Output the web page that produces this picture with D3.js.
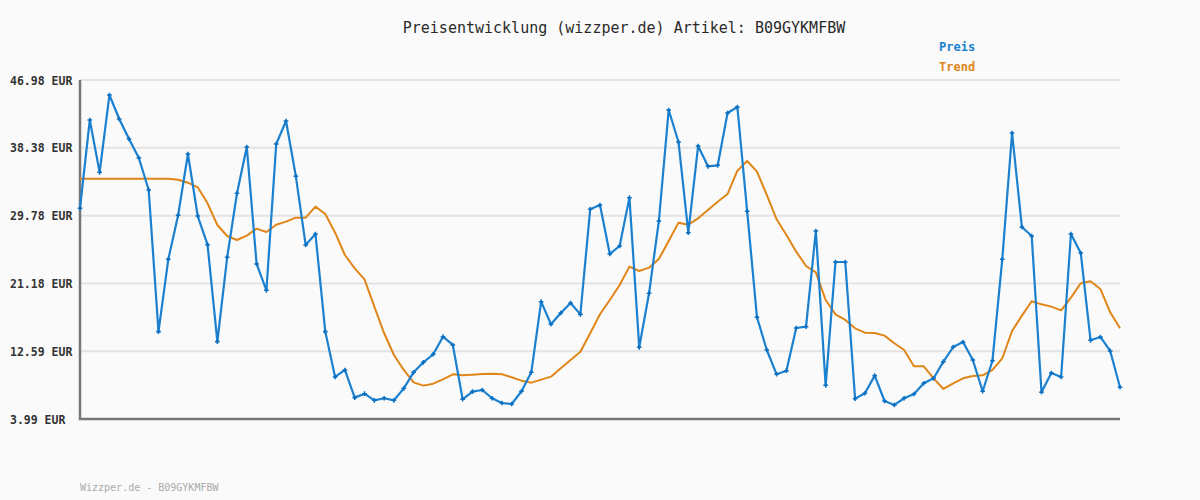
<!DOCTYPE html>
<html><head><meta charset="utf-8">
<script src="https://cdn.jsdelivr.net/npm/d3@7"></script>
<style>
html,body{margin:0;padding:0;background:#fafafa;}
svg{display:block;}
text{font-family:"DejaVu Sans Mono","Liberation Mono",monospace;}
</style></head>
<body>
<svg id="chart" width="1200" height="500"></svg>
<script>
const titleText = "Preisentwicklung (wizzper.de) Artikel: B09GYKMFBW";
const footerText = "Wizzper.de - B09GYKMFBW";
const seriesNames = ["Preis", "Trend"];
const tickValues = [3.99, 12.59, 21.18, 29.78, 38.38, 46.98];
const tickLabels = ["3.99 EUR", "12.59 EUR", "21.18 EUR", "29.78 EUR", "38.38 EUR", "46.98 EUR"];

const preis = [
 30.71, 41.91, 35.27, 45.08, 42.03, 39.50, 37.09, 33.03, 15.07, 24.24,
 29.82, 37.60, 29.73, 26.10, 13.80, 24.49, 32.61, 38.48, 23.65, 20.31,
 38.86, 41.78, 34.77, 26.06, 27.45, 15.07, 9.32, 10.21, 6.70, 7.20,
 6.36, 6.62, 6.36, 7.88, 9.91, 11.18, 12.20, 14.43, 13.38, 6.49,
 7.46, 7.67, 6.62, 6.02, 5.89, 7.51, 9.91, 18.87, 16.00, 17.43,
 18.70, 17.26, 30.58, 31.13, 24.92, 25.93, 32.06, 13.08, 19.93, 29.10,
 43.18, 39.12, 27.62, 38.61, 36.03, 36.16, 42.80, 43.56, 30.33, 16.89,
 12.74, 9.66, 10.12, 15.53, 15.70, 27.83, 8.26, 23.90, 23.90, 6.57,
 7.25, 9.49, 6.27, 5.77, 6.62, 7.16, 8.52, 9.15, 11.26, 13.12,
 13.76, 11.47, 7.51, 11.38, 24.24, 40.26, 28.34, 27.20, 7.38, 9.82,
 9.32, 27.45, 25.04, 13.97, 14.39, 12.62, 8.01
];

const trend = [
 34.47, 34.47, 34.47, 34.47, 34.47, 34.47, 34.47, 34.47, 34.47, 34.47,
 34.34, 33.96, 33.37, 31.34, 28.59, 27.20, 26.69, 27.24, 28.13, 27.71,
 28.63, 29.02, 29.52, 29.52, 30.92, 29.99, 27.62, 24.79, 23.10, 21.70,
 18.24, 14.86, 12.11, 10.21, 8.64, 8.22, 8.47, 9.02, 9.66, 9.53,
 9.61, 9.70, 9.74, 9.66, 9.28, 8.85, 8.60, 8.98, 9.36, 10.42,
 11.47, 12.53, 14.86, 17.27, 19.08, 20.98, 23.31, 22.76, 23.18, 24.28,
 26.57, 28.89, 28.63, 29.44, 30.50, 31.55, 32.52, 35.48, 36.71, 35.36,
 32.40, 29.31, 27.33, 25.21, 23.39, 22.59, 19.08, 17.27, 16.55, 15.49,
 14.94, 14.90, 14.56, 13.59, 12.74, 10.67, 10.67, 9.15, 7.80, 8.52,
 9.15, 9.45, 9.53, 10.21, 11.69, 15.15, 17.10, 18.92, 18.53, 18.24,
 17.77, 19.38, 21.20, 21.45, 20.48, 17.52, 15.49
];

const colors = {preis:"#1a80cf", trend:"#e08618"};
const svg = d3.select("#chart");
const pLeft = 80, pRight = 1120, pTop = 80, pBottom = 419;

const x = d3.scaleLinear().domain([0, preis.length - 1]).range([pLeft, pRight]);
const y = d3.scaleLinear().domain([tickValues[0], tickValues[tickValues.length-1]]).range([pBottom, pTop]);

svg.append("rect").attr("width",1200).attr("height",500).attr("fill","#fafafa");

// grid
svg.append("g").selectAll("line").data(tickValues.slice(1)).join("line")
  .attr("x1", pLeft).attr("x2", pRight)
  .attr("y1", d => y(d)).attr("y2", d => y(d))
  .attr("stroke", "#e3e3e3").attr("stroke-width", 2);

// y axis labels via d3 axis
const yAxis = d3.axisLeft(y).tickValues(tickValues).tickSize(0).tickPadding(8)
  .tickFormat((d,i) => tickLabels[i]);
const ya = svg.append("g").attr("transform", `translate(${pLeft},0)`).call(yAxis);
ya.select(".domain").remove();
ya.selectAll("text").attr("font-family", '"DejaVu Sans Mono", monospace')
  .attr("font-size", 11.5).attr("font-weight", "bold").attr("fill", "#333")
  .attr("text-anchor","start").attr("x", 10 - pLeft).attr("dy", "0.35em");

// axes lines
svg.append("path")
  .attr("d", `M${pLeft},${pTop} V${pBottom} H${pRight}`)
  .attr("fill","none").attr("stroke","#777").attr("stroke-width",2.5);

// lines
const line = d3.line().x((d,i) => x(i)).y(d => y(d));
svg.append("path").datum(trend).attr("d", line)
  .attr("fill","none").attr("stroke", colors.trend).attr("stroke-width", 2)
  .attr("stroke-linejoin","round");
svg.append("path").datum(preis).attr("d", line)
  .attr("fill","none").attr("stroke", colors.preis).attr("stroke-width", 2.2)
  .attr("stroke-linejoin","round");

// markers
const sym = d3.symbol().type(d3.symbolCross).size(12);
svg.append("g").selectAll("path").data(preis).join("path")
  .attr("d", sym)
  .attr("transform", (d,i) => `translate(${x(i)},${y(d)})`)
  .attr("fill", "#0a6fc0");

// title
svg.append("text").attr("x", 624).attr("y", 33).attr("text-anchor","middle")
  .attr("font-size", 15).attr("fill","#2a2a2a").text(titleText);

// legend
svg.append("g").selectAll("text").data(seriesNames).join("text")
  .attr("x", 939).attr("y", (d,i) => 51 + i*20)
  .attr("font-size", 12).attr("font-weight","bold")
  .attr("fill", (d,i) => i === 0 ? colors.preis : colors.trend)
  .text(d => d);

// footer
svg.append("text").attr("x", 80).attr("y", 491)
  .attr("font-size", 10).attr("fill","#aaa").text(footerText);
</script>
</body></html>
